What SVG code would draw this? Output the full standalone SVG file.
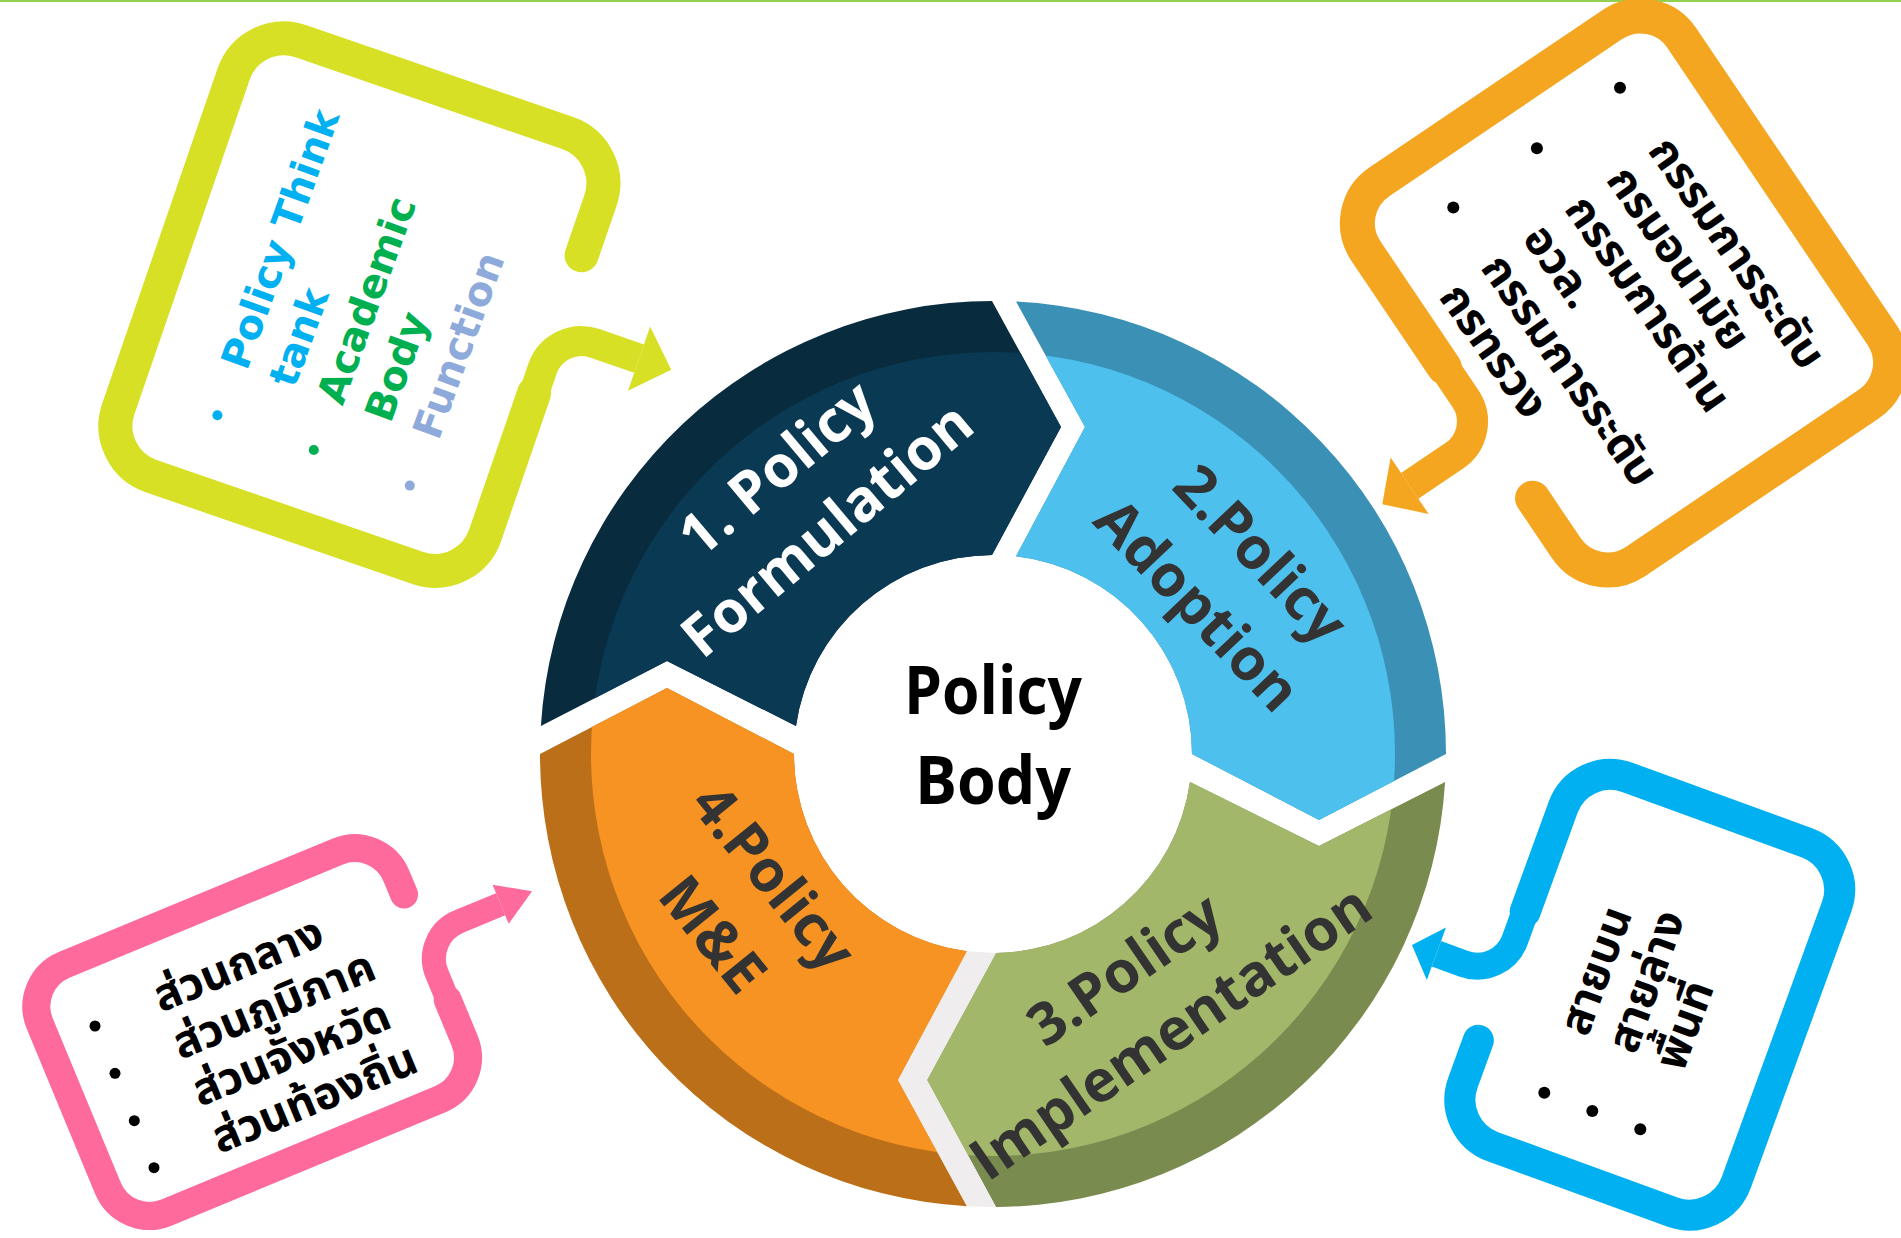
<svg xmlns="http://www.w3.org/2000/svg" width="1901" height="1238" viewBox="0 0 1901 1238">
<style>
.seglbl{font-family:"Open Sans","Noto Sans",sans-serif;font-weight:700;font-size:58px;text-anchor:middle}
.dark{fill:#333333}
.white{fill:#ffffff}
.thai{font-family:"Noto Sans Thai","Tahoma","Leelawadee UI","Noto Sans","DejaVu Sans",sans-serif;font-weight:700;font-size:45px;fill:#000000}
.en{font-family:"DejaVu Sans","Verdana",sans-serif;font-weight:700;font-size:40px}
.center{font-family:"Open Sans","Noto Sans",sans-serif;font-weight:700;font-size:66px;fill:#000000;text-anchor:middle}
.box{fill:none;stroke-linecap:round;stroke-linejoin:round}
.conn{fill:none;stroke-linecap:butt;stroke-linejoin:round}
</style>
<defs>
<clipPath id="face"><circle cx="993" cy="754" r="402"/></clipPath>
<marker id="ahY" markerUnits="userSpaceOnUse" viewBox="0 -34 34 68" refX="0" refY="0" markerWidth="34" markerHeight="68" orient="auto" overflow="visible"><path d="M0,-34 L34,0 L0,34 Z" fill="#d7e024"/></marker>
<marker id="ahO" markerUnits="userSpaceOnUse" viewBox="0 -34 34 68" refX="0" refY="0" markerWidth="34" markerHeight="68" orient="auto" overflow="visible"><path d="M0,-34 L33,0 L0,34 Z" fill="#f4a621"/></marker>
<marker id="ahB" markerUnits="userSpaceOnUse" viewBox="0 -28 26 56" refX="0" refY="0" markerWidth="26" markerHeight="56" orient="auto" overflow="visible"><path d="M0,-28 L26,0 L0,28 Z" fill="#00b0f0"/></marker>
<marker id="ahP" markerUnits="userSpaceOnUse" viewBox="0 -21 34 42" refX="0" refY="0" markerWidth="34" markerHeight="42" orient="auto" overflow="visible"><path d="M0,-21 L34,0 L0,21 Z" fill="#fd6a9b"/></marker>
</defs>

<rect x="0" y="0" width="1901" height="2" fill="#92d050"/>

<!-- ring segments -->
<g id="seg1">
<path d="M540.9,726 A453,453 0 0 1 992,301 L1061,427 L992,555 A199,199 0 0 0 796,726 L667,661 Z" fill="#092b3e"/>
<path clip-path="url(#face)" d="M540.9,726 A453,453 0 0 1 992,301 L1061,427 L992,555 A199,199 0 0 0 796,726 L667,661 Z" fill="#0a3953"/>
<text class="seglbl white" transform="translate(790,484) rotate(-40)">1. Policy</text>
<text class="seglbl white" transform="translate(840,545) rotate(-40)">Formulation</text>
</g>
<g id="seg2">
<path d="M1016,301.6 A453,453 0 0 1 1446,754 L1319,820 L1192,754 A199,199 0 0 0 1016,556.3 L1085,427 Z" fill="#3a91b5"/>
<path clip-path="url(#face)" d="M1016,301.6 A453,453 0 0 1 1446,754 L1319,820 L1192,754 A199,199 0 0 0 1016,556.3 L1085,427 Z" fill="#4ec0ee"/>
<text class="seglbl dark" transform="translate(1246,568) rotate(46.5)">2.Policy</text>
<text class="seglbl dark" transform="translate(1183,619) rotate(46.5)">Adoption</text>
</g>
<g id="seg3">
<path d="M1445.1,782 A453,453 0 0 1 996,1207 L927,1080 L996,953 A199,199 0 0 0 1190,782 L1319,846 Z" fill="#7a8b4f"/>
<path clip-path="url(#face)" d="M1445.1,782 A453,453 0 0 1 996,1207 L927,1080 L996,953 A199,199 0 0 0 1190,782 L1319,846 Z" fill="#a3b76a"/>
<text class="seglbl dark" transform="translate(1136,986) rotate(-34.5)">3.Policy</text>
<text class="seglbl dark" transform="translate(1182,1049) rotate(-34.5)">Implementation</text>
</g>
<g id="seg4">
<path d="M967,1206.3 A453,453 0 0 1 540,754 L667,688 L794,754 A199,199 0 0 0 967,951.3 L898,1080 Z" fill="#bb6f18"/>
<path clip-path="url(#face)" d="M967,1206.3 A453,453 0 0 1 540,754 L667,688 L794,754 A199,199 0 0 0 967,951.3 L898,1080 Z" fill="#f69322"/>
<text class="seglbl dark" transform="translate(758,890) rotate(51)">4.Policy</text>
<text class="seglbl dark" transform="translate(697,947) rotate(51)">M&amp;E</text>
</g>
<polygon id="gap34" points="967,1206.3 996,1207 927,1080 996,953 967,951.3 898,1080" fill="#efeded"/>

<g id="center">
<text class="center" x="993" y="714" textLength="178" lengthAdjust="spacingAndGlyphs">Policy</text>
<text class="center" x="993" y="804" textLength="156" lengthAdjust="spacingAndGlyphs">Body</text>
</g>

<!-- callout boxes -->
<g id="box-formulation">
<path class="box" transform="rotate(19)" d="M633,52 L633,-6 A53,53 0 0 0 580,-59 L298,-59 A53,53 0 0 0 245,-6 L245,348 A53,53 0 0 0 298,401 L580,401 A53,53 0 0 0 633,348 L633,198" stroke="#d7e024" stroke-width="34"/>
<g transform="translate(246.7,371.8) rotate(-70)">
<text class="en" x="0" y="0" fill="#00b0f0">Policy Think</text>
<text class="en" x="0" y="51" fill="#00b0f0">tank</text>
<text class="en" x="0" y="102" fill="#00b050">Academic</text>
<text class="en" x="0" y="153" fill="#00b050">Body</text>
<text class="en" x="0" y="204" fill="#8eaadb">Function</text>
</g>
<circle cx="217.4" cy="415.2" r="5" fill="#00b0f0"/>
<circle cx="313.8" cy="450" r="5" fill="#00b050"/>
<circle cx="409.8" cy="485.6" r="5" fill="#8eaadb"/>
</g>

<g id="box-adoption">
<path class="box" transform="rotate(-34)" d="M992,1270 L992,1330 A50,50 0 0 0 1042,1380 L1323,1380 A50,50 0 0 0 1373,1330 L1373,972 A50,50 0 0 0 1323,922 L1042,922 A50,50 0 0 0 992,972 L992,1112" stroke="#f4a621" stroke-width="35"/>
<g class="thai">
<text transform="translate(1647,150.5) rotate(55)">กรรมการระดับ</text>
<text transform="translate(1605.2,179.8) rotate(55)">กรมอนามัย</text>
<text transform="translate(1563.4,209.1) rotate(55)">กรรมการด้าน</text>
<text transform="translate(1521.6,238.4) rotate(55)">อวล.</text>
<text transform="translate(1479.8,267.7) rotate(55)">กรรมการระดับ</text>
<text transform="translate(1438,297) rotate(55)">กรทรวง</text>
</g>
<circle cx="1620" cy="87.8" r="6" fill="#000"/>
<circle cx="1536.9" cy="148.3" r="6" fill="#000"/>
<circle cx="1453.3" cy="207.6" r="6" fill="#000"/>
</g>

<g id="box-implementation">
<path class="box" transform="rotate(20)" d="M1745,472 L1745,517 A50,50 0 0 0 1795,567 L1986,567 A50,50 0 0 0 2036,517 L2036,224 A50,50 0 0 0 1986,174 L1795,174 A50,50 0 0 0 1745,224 L1745,335" stroke="#00b0f0" stroke-width="31"/>
<g class="thai">
<text transform="translate(1587.5,1038) rotate(-70)">สายบน</text>
<text transform="translate(1635.4,1055.4) rotate(-70)">สายล่าง</text>
<text transform="translate(1683.3,1072.8) rotate(-70)">พื้นที่</text>
</g>
<circle cx="1544.3" cy="1092.7" r="6" fill="#000"/>
<circle cx="1592.3" cy="1111" r="6" fill="#000"/>
<circle cx="1640.3" cy="1129.3" r="6" fill="#000"/>
</g>

<g id="box-me">
<path class="box" transform="rotate(-22.5)" d="M31,981 L31,961 A45,45 0 0 0 -14,916 L-310,916 A45,45 0 0 0 -355,961 L-355,1139 A45,45 0 0 0 -310,1184 L-14,1184 A45,45 0 0 0 31,1139 L31,1095" stroke="#fd6a9b" stroke-width="28"/>
<g class="thai">
<text transform="translate(161.1,1012.8) rotate(-22.5)">ส่วนกลาง</text>
<text transform="translate(180.6,1059.9) rotate(-22.5)">ส่วนภูมิภาค</text>
<text transform="translate(200.1,1107) rotate(-22.5)">ส่วนจังหวัด</text>
<text transform="translate(219.6,1154.1) rotate(-22.5)">ส่วนท้องถิ่น</text>
</g>
<circle cx="95" cy="1026" r="5.5" fill="#000"/>
<circle cx="115" cy="1073.3" r="5.5" fill="#000"/>
<circle cx="134.3" cy="1120.7" r="5.5" fill="#000"/>
<circle cx="154" cy="1167.7" r="5.5" fill="#000"/>
</g>

<!-- connectors: arrows from the callouts into the cycle -->
<g id="connectors">
<path class="conn" transform="rotate(19)" d="M633,205 L633,172 A41,41 0 0 1 674,131 L721,131" stroke="#d7e024" stroke-width="30" marker-end="url(#ahY)"/>
<path class="conn" transform="rotate(-34)" d="M992,1105 L992,1150 A41,41 0 0 1 951,1191 L897,1191" stroke="#f4a621" stroke-width="31" marker-end="url(#ahO)"/>
<path class="conn" transform="rotate(20)" d="M1745,325 L1745,365 A40,40 0 0 1 1705,405 L1676,405" stroke="#00b0f0" stroke-width="27" marker-end="url(#ahB)"/>
<path class="conn" transform="rotate(-22.5)" d="M31,1102 L31,1067 A40,40 0 0 1 71,1027 L116.5,1027" stroke="#fd6a9b" stroke-width="24" marker-end="url(#ahP)"/>
</g>
</svg>
